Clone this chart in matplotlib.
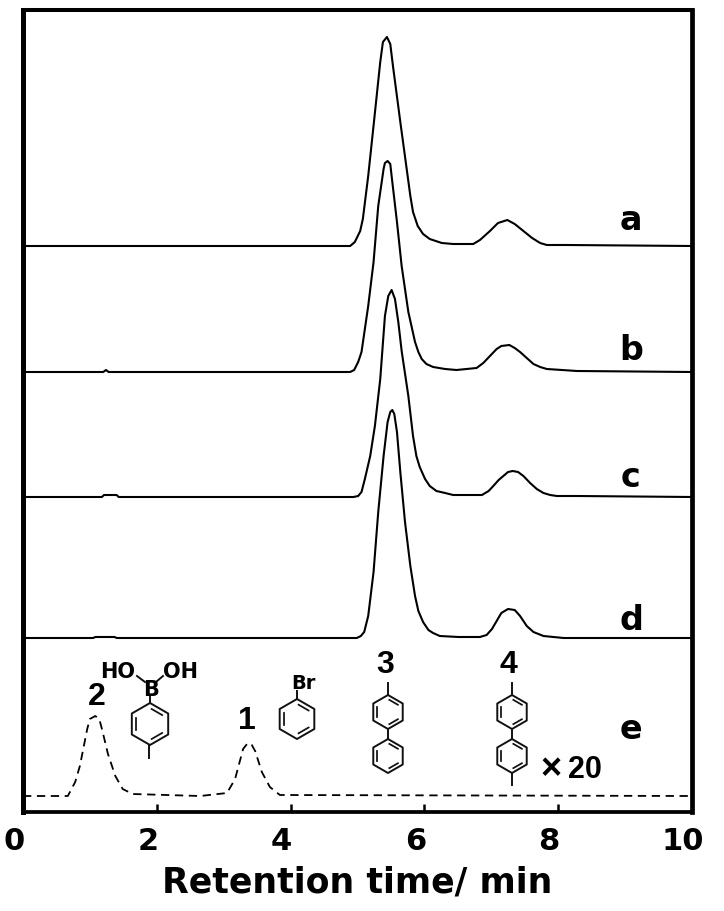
import numpy as np
import matplotlib
matplotlib.use("Agg")
import matplotlib.pyplot as plt
from matplotlib.transforms import ScaledTranslation

plt.rcParams['font.family'] = ['DejaVu Sans']
NARROW = ['Liberation Sans', 'DejaVu Sans']

# retention time (min) and detector signal for each trace
time_a = [0, 4.89, 4.96, 5.04, 5.08, 5.16, 5.23, 5.34, 5.38, 5.44, 5.49, 5.53, 5.64, 5.79, 5.83, 5.90, 5.98, 6.08, 6.26, 6.43, 6.73, 6.83, 6.98, 7.10, 7.24, 7.35, 7.48, 7.61, 7.73, 7.83, 8.13, 10]
sig_a = [566, 566, 570, 581, 593, 636, 680, 750, 770, 775, 768, 746, 690, 616, 600, 586, 578, 573, 569, 568, 568, 572, 581, 589, 592, 588, 581, 574, 569, 567, 567, 566]

time_b = [0, 1.2, 1.24, 1.28, 4.89, 4.95, 5.01, 5.06, 5.11, 5.16, 5.24, 5.31, 5.39, 5.41, 5.45, 5.49, 5.51, 5.59, 5.66, 5.76, 5.86, 5.91, 5.96, 6.03, 6.13, 6.31, 6.48, 6.78, 6.88, 6.98, 7.08, 7.15, 7.27, 7.35, 7.43, 7.53, 7.63, 7.73, 7.83, 8.28, 10]
sig_b = [440, 440, 442, 440, 440, 442, 450, 460, 483, 506, 550, 606, 643, 649, 651, 648, 636, 590, 546, 500, 470, 460, 453, 448, 445, 443, 442, 444, 449, 456, 463, 466, 467, 464, 460, 454, 448, 445, 443, 441, 440]

time_c = [0, 1.18, 1.21, 1.40, 1.43, 4.94, 5.01, 5.06, 5.11, 5.19, 5.26, 5.34, 5.41, 5.46, 5.51, 5.56, 5.61, 5.66, 5.76, 5.83, 5.88, 5.93, 6.01, 6.08, 6.18, 6.31, 6.43, 6.86, 6.96, 7.03, 7.11, 7.18, 7.25, 7.32, 7.40, 7.48, 7.58, 7.68, 7.78, 7.88, 7.98, 8.28, 10]
sig_c = [315, 315, 317, 317, 315, 315, 316, 320, 333, 356, 386, 433, 496, 516, 522, 513, 490, 461, 416, 376, 356, 345, 333, 326, 321, 319, 317, 317, 321, 326, 332, 336, 340, 341, 340, 336, 329, 323, 319, 317, 316, 316, 315]

time_d = [0, 1.05, 1.08, 1.37, 1.40, 4.99, 5.05, 5.10, 5.16, 5.24, 5.31, 5.39, 5.45, 5.49, 5.52, 5.55, 5.59, 5.64, 5.71, 5.79, 5.86, 5.91, 5.98, 6.06, 6.13, 6.23, 6.51, 6.83, 6.93, 7.01, 7.08, 7.15, 7.25, 7.35, 7.43, 7.53, 7.63, 7.78, 8.08, 10]
sig_d = [174, 174, 175, 175, 174, 174, 176, 180, 196, 240, 300, 356, 390, 400, 402, 398, 380, 340, 290, 246, 216, 201, 190, 182, 179, 176, 175, 175, 177, 183, 191, 199, 203, 202, 196, 186, 180, 176, 174, 174]

time_e = [0, 0.67, 0.78, 0.85, 0.96, 1.00, 1.08, 1.14, 1.18, 1.27, 1.38, 1.49, 1.64, 2.65, 3.05, 3.17, 3.29, 3.36, 3.42, 3.47, 3.57, 3.69, 3.84, 10]
sig_e = [16, 16, 30, 46, 83, 93, 96, 93, 83, 58, 36, 23, 18, 16, 19, 33, 63, 69, 67, 61, 40, 25, 17, 16]

xticks = [0, 2, 4, 6, 8, 10]
trace_labels = ['a', 'b', 'c', 'd', 'e']
peak_labels = ['2', '1', '3', '4']

W, H = 724, 912
fig = plt.figure(figsize=(W / 100, H / 100), dpi=100)
ax = fig.add_axes([23 / W, 1 - 813 / H, 669 / W, 802 / H])

for t, s in [(time_a, sig_a), (time_b, sig_b), (time_c, sig_c), (time_d, sig_d)]:
    ax.plot(t, s, color='k', lw=1.5, solid_joinstyle='round')
ax.plot(time_e, sig_e, color='k', lw=1.3, dashes=(4.6, 3.1))

ax.set_xlim(0, 10)
ax.set_ylim(0, 802)
ax.set_yticks([])
ax.set_xticks(xticks)
ax.tick_params(axis='x', direction='in', length=5.5, width=1.8, pad=10, labelsize=22)
for lab in ax.get_xticklabels():
    lab.set_fontweight('bold')
    lab.set_transform(lab.get_transform() + ScaledTranslation(-9 / 100, 0, fig.dpi_scale_trans))
ax.spines['left'].set_linewidth(3.6)
ax.spines['right'].set_linewidth(3.4)
ax.spines['top'].set_linewidth(2.9)
ax.spines['bottom'].set_linewidth(2.7)
ax.set_xlabel('Retention time/ min', fontsize=25, fontweight='bold', labelpad=7)

# overlay in picture pixels for the labels and structures
ov = fig.add_axes([0, 0, 1, 1], facecolor='none')
ov.set_xlim(0, W)
ov.set_ylim(H, 0)
ov.axis('off')


def ring(cx, cy, r, lw=1.4):
    ang = np.radians(np.arange(90, 450, 60))
    xs, ys = cx + r * np.cos(ang), cy - r * np.sin(ang)
    ov.plot(np.r_[xs, xs[0]], np.r_[ys, ys[0]], color='#111111', lw=lw)
    # inner double bonds
    for i in [1, 3, 5]:
        j = (i + 1) % 6
        x0, y0 = cx + 0.76 * (xs[i] - cx), cy + 0.76 * (ys[i] - cy)
        x1, y1 = cx + 0.76 * (xs[j] - cx), cy + 0.76 * (ys[j] - cy)
        ov.plot([x0 + 0.12 * (x1 - x0), x1 - 0.12 * (x1 - x0)],
                [y0 + 0.12 * (y1 - y0), y1 - 0.12 * (y1 - y0)], color='#111111', lw=lw * 0.9)


def bond(x0, y0, x1, y1, lw=1.4):
    ov.plot([x0, x1], [y0, y1], color='#111111', lw=lw)


for name, py in zip(trace_labels, [221, 351, 478, 621, 730]):
    ov.text(631, py, name, fontsize=24, fontweight='bold', ha='center', va='center')
for name, px, py in zip(peak_labels, [97, 247, 385, 508], [697, 721, 665, 665]):
    ov.text(px, py, name, fontsize=23, fontweight='bold', ha='center', va='center', family=NARROW)

# p-tolylboronic acid
ring(150, 725, 21)
bond(150, 704, 150, 697)
bond(149, 746, 149, 759)
bond(137, 677, 145, 683)
bond(163, 677, 156, 683)
ov.text(118, 672, 'HO', fontsize=15, fontweight='bold', ha='center', va='center')
ov.text(181, 672, 'OH', fontsize=15, fontweight='bold', ha='center', va='center')
ov.text(151, 690, 'B', fontsize=15, fontweight='bold', ha='center', va='center')

# bromobenzene
ring(297, 720, 20)
bond(297, 700, 297, 692)
ov.text(303, 684, 'Br', fontsize=14, fontweight='bold', ha='center', va='center')

# methylbiphenyl
ring(388, 713, 17)
ring(388, 757, 17)
bond(388, 696, 388, 684)
bond(388, 730, 388, 740)

# dimethylbiphenyl
ring(512, 713, 17)
ring(512, 757, 17)
bond(512, 696, 512, 684)
bond(512, 730, 512, 740)
bond(512, 774, 512, 786)

ov.text(551, 770, '\u00d7', fontsize=26, fontweight='bold', ha='center', va='center', family=NARROW)
ov.text(585, 770, '20', fontsize=22, fontweight='bold', ha='center', va='center', family=NARROW)

fig.savefig('out.png', dpi=100)
